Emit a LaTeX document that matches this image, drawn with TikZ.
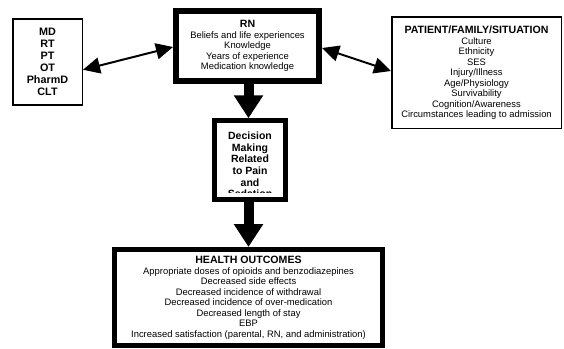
\documentclass[tikz,border=0pt]{standalone}
\usepackage{fontspec}
\setmainfont{Liberation Sans}
\usetikzlibrary{arrows.meta,calc}
\tikzset{
  thinbox/.style={draw=black, line width=1.5pt, fill=white, inner sep=0pt, align=center},
  thickbox/.style={draw=black, fill=white, inner sep=0pt, align=center},
  body/.style={font=\fontsize{9.4}{10.5}\selectfont},
  dblarrow/.style={line width=2pt, {Triangle[length=17pt,width=16pt]}-{Triangle[length=17pt,width=16pt]}},
  bigarrow/.style={line width=10pt, -{Triangle[length=23pt,width=28pt]}}
}
\newcommand{\hd}[1]{{\fontsize{10.6}{11}\selectfont\bfseries #1}}
\begin{document}
\begin{tikzpicture}[x=1pt,y=-1pt]
\useasboundingbox (0,0) rectangle (564,348);
% left box
\node[thinbox, minimum width=69.5pt, minimum height=86pt,
      font=\fontsize{10.8}{12}\selectfont\bfseries] (md) at (47.5,61.75)
  {MD\\RT\\PT\\OT\\PharmD\\CLT};
% RN box
\node[thickbox, line width=6pt, minimum width=143pt, minimum height=70pt, body] (rn) at (247.5,46)
  {\hd{RN}\\[0.3pt]Beliefs and life experiences\\Knowledge\\Years of experience\\Medication knowledge};
% Patient box
\node[thinbox, minimum width=169.5pt, minimum height=111.5pt, body] (pt) at (476.5,72.5)
  {\hd{PATIENT/FAMILY/SITUATION}\\[0.3pt]Culture\\Ethnicity\\SES\\Injury/Illness\\Age/Physiology\\Survivability\\Cognition/Awareness\\Circumstances leading to admission};
% Decision box
\node[thickbox, line width=4.5pt, minimum width=71pt, minimum height=79pt] (dec) at (250,160) {};
\begin{scope}
  \clip (217,123) rectangle (283,192.5);
  \node[inner sep=0pt, align=center, font=\fontsize{10.5}{11.6}\selectfont\bfseries] (dectext) at (250,165)
    {Decision\\Making\\Related\\to Pain\\and\\Sedation};
\end{scope}
% Health outcomes box
\node[thickbox, line width=5pt, minimum width=268pt, minimum height=96pt, body] (ho) at (248.5,297.5)
  {\hd{HEALTH OUTCOMES}\\[0.3pt]Appropriate doses of opioids and benzodiazepines\\Decreased side effects\\Decreased incidence of withdrawal\\Decreased incidence of over-medication\\Decreased length of stay\\EBP\\Increased satisfaction (parental, RN, and administration)};
% connectors
\draw[dblarrow] ($(md.east)+(0,8)$) -- ($(rn.west)+(0,1)$);
\draw[dblarrow] ($(rn.east)+(0,2)$) -- ($(pt.west)+(0,-1.5)$);
\draw[bigarrow] (rn.south -| 248.5,0) -- (248.5,0 |- dec.north);
\draw[bigarrow] (dec.south -| 248.5,0) -- (248.5,0 |- ho.north);
\end{tikzpicture}
\end{document}
